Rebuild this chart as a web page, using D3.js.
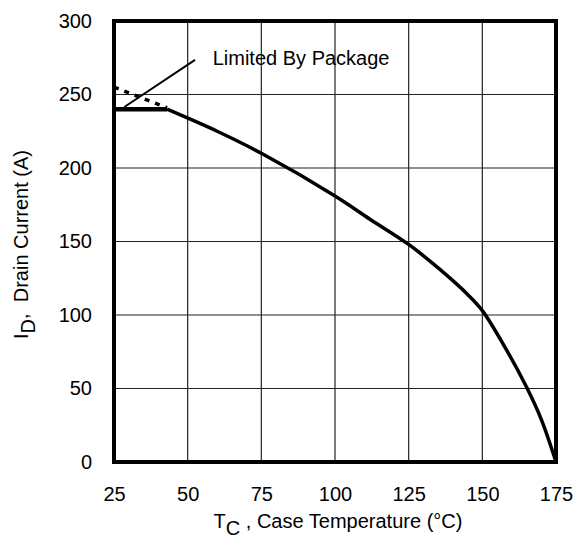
<!DOCTYPE html>
<meta charset="utf-8">
<script src="https://d3js.org/d3.v7.min.js"></script>
<style>
  body { margin: 0; background: #fff; }
  text { font-family: "Liberation Sans", Arial, sans-serif; fill: #000; white-space: pre; }
</style>
<div id="chart"></div>
<script>
// case temperature (°C) vs drain current (A)
var tempC   = [43, 60, 75, 100, 112, 125, 135, 145, 150, 158, 165, 170, 175];
var current = [240, 225, 210, 181, 165, 148, 132, 114, 103, 77, 51, 29, 0];

// package limit (flat) and the silicon limit above it (dashed)
var pkgTemp = [25, 43];
var pkgCurrent = [240, 240];
var siTemp = [25, 34, 43];
var siCurrent = [255, 248, 241];

// annotation pointer
var noteTemp = [28.5, 52.5];
var noteCurrent = [241.5, 273.5];
var noteText = "Limited By Package";

var xTicks = [25, 50, 75, 100, 125, 150, 175];
var yTicks = [0, 50, 100, 150, 200, 250, 300];

var margin = {top: 21, right: 18, bottom: 84, left: 114},
    width = 574 - margin.left - margin.right,
    height = 546 - margin.top - margin.bottom;

var svg = d3.select("#chart")
  .append("svg")
    .attr("width", 574)
    .attr("height", 546)
  .append("g")
    .attr("transform", "translate(" + margin.left + "," + margin.top + ")");

var x = d3.scaleLinear().domain([25, 175]).range([0, width]);
var y = d3.scaleLinear().domain([0, 300]).range([height, 0]);

// grid
svg.append("g")
  .selectAll("line")
  .data(xTicks)
  .enter().append("line")
    .attr("x1", d => x(d)).attr("x2", d => x(d))
    .attr("y1", 0).attr("y2", height)
    .attr("stroke", "#222").attr("stroke-width", 1.2);
svg.append("g")
  .selectAll("line")
  .data(yTicks)
  .enter().append("line")
    .attr("y1", d => y(d)).attr("y2", d => y(d))
    .attr("x1", 0).attr("x2", width)
    .attr("stroke", "#222").attr("stroke-width", 1.2);

// axes (labels only)
var xAxis = svg.append("g")
  .attr("transform", "translate(0," + height + ")")
  .call(d3.axisBottom(x).tickValues(xTicks).tickSize(0).tickPadding(25));
var yAxis = svg.append("g")
  .call(d3.axisLeft(y).tickValues(yTicks).tickSize(0).tickPadding(22));
[xAxis, yAxis].forEach(function (a) {
  a.select(".domain").remove();
  a.selectAll("text").style("font-size", "20px").attr("font-family", null);
});

// frame
svg.append("rect")
  .attr("x", 0).attr("y", 0)
  .attr("width", width).attr("height", height)
  .attr("fill", "none").attr("stroke", "#000").attr("stroke-width", 4);

var line = d3.line()
  .x(d => x(d[0]))
  .y(d => y(d[1]));

// main curve
svg.append("path")
  .datum(d3.zip(tempC, current))
  .attr("d", line.curve(d3.curveCatmullRom))
  .attr("fill", "none").attr("stroke", "#000").attr("stroke-width", 3.5);

// package limit
svg.append("path")
  .datum(d3.zip(pkgTemp, pkgCurrent))
  .attr("d", line.curve(d3.curveLinear))
  .attr("fill", "none").attr("stroke", "#000").attr("stroke-width", 4.5);

// dashed silicon limit
svg.append("path")
  .datum(d3.zip(siTemp, siCurrent))
  .attr("d", line.curve(d3.curveLinear))
  .attr("fill", "none").attr("stroke", "#000").attr("stroke-width", 3.5)
  .attr("stroke-dasharray", "5,6");

// annotation
svg.append("path")
  .datum(d3.zip(noteTemp, noteCurrent))
  .attr("d", line.curve(d3.curveLinear))
  .attr("fill", "none").attr("stroke", "#000").attr("stroke-width", 2);
svg.append("text")
  .attr("x", x(58.5)).attr("y", y(270))
  .style("font-size", "20px")
  .text(noteText);

// axis titles
var xl = svg.append("text")
  .attr("x", width / 2 + 3).attr("y", height + 66)
  .attr("text-anchor", "middle")
  .style("font-size", "20px");
xl.append("tspan").text("T");
xl.append("tspan").attr("dy", 7).text("C");
xl.append("tspan").attr("dy", -7).text(" , Case Temperature (°C)");

var yl = svg.append("text")
  .attr("transform", "translate(" + (-86) + "," + (height / 2 + 3) + ") rotate(-90)")
  .attr("text-anchor", "middle")
  .style("font-size", "20px");
yl.append("tspan").text("I");
yl.append("tspan").attr("dy", 7).text("D");
yl.append("tspan").attr("dy", -7).text(",  Drain Current (A)");
</script>
